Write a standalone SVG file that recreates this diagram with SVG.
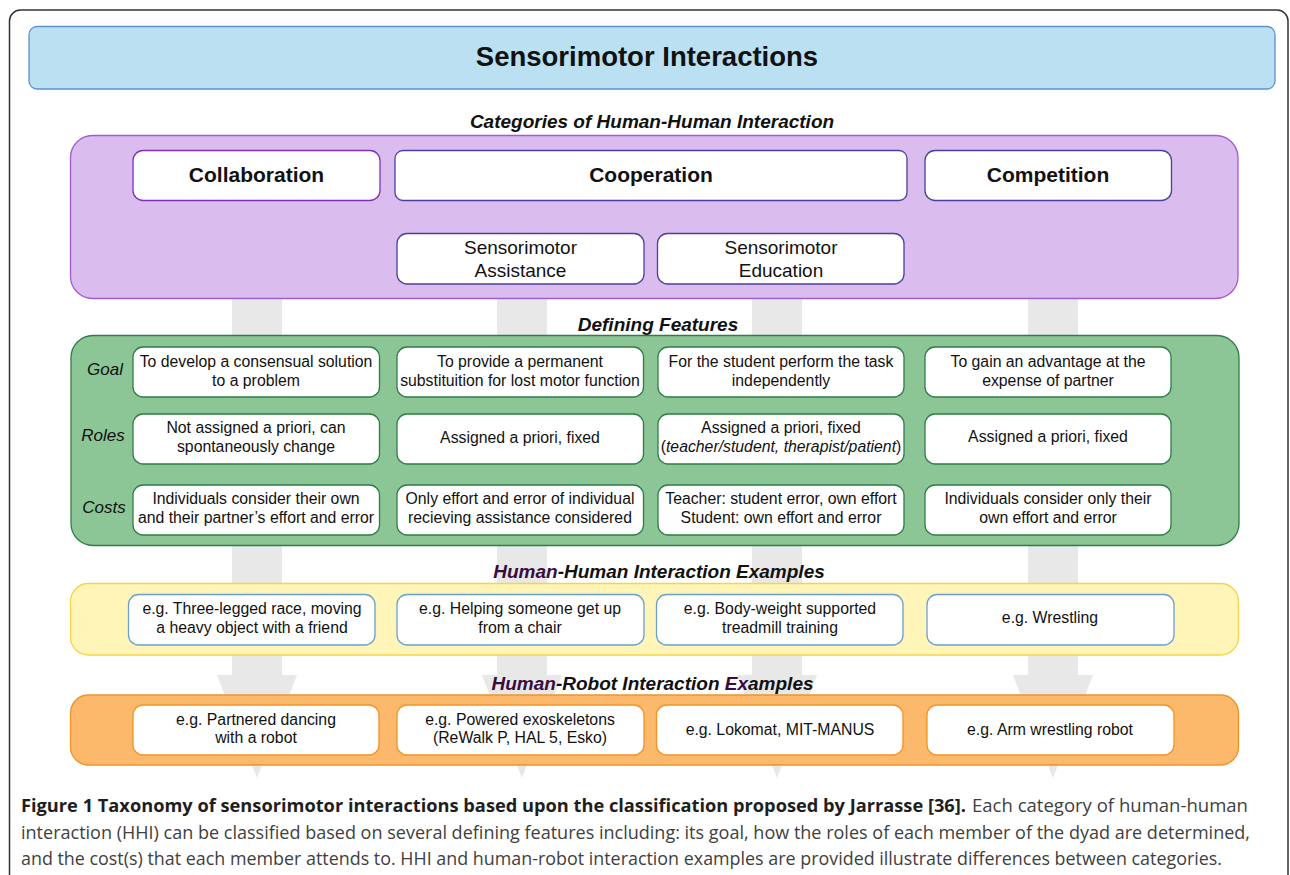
<svg xmlns="http://www.w3.org/2000/svg" width="1290" height="875" viewBox="0 0 1290 875">
<defs>
<style>
.t{font-family:"Liberation Sans",Arial,Helvetica,sans-serif;fill:#111;text-anchor:middle}
.title{font-size:27.5px;font-weight:bold}
.sec{font-size:19px;font-weight:bold;font-style:italic}
.cat{font-size:21px;font-weight:bold}
.sub{font-size:19px}
.cell{font-size:15.8px}
.lab{font-size:17px;font-style:italic}
.inner{fill:#fff;stroke-width:1.3}
.arrow{fill:#e8e8e8}
.cap{font-family:"Open Sans","Noto Sans","Liberation Sans",sans-serif;font-size:17.5px;fill:#404040}
.capb{font-weight:bold;fill:#1e1e1e}
.dk{fill:#3a0c3e}
</style>
</defs>
<rect x="0" y="0" width="1290" height="875" fill="#fff"/>
<rect x="9.5" y="10" width="1278.5" height="900" rx="11" fill="#fff" stroke="#333" stroke-width="1.5"/>

<g id="connectors">
<path class="arrow" d="M232,290 H282 V675 H297 L257,778 L217,675 H232 Z"/>
<path class="arrow" d="M497,290 H547 V675 H562 L522,778 L482,675 H497 Z"/>
<path class="arrow" d="M752,290 H802 V675 H817 L777,778 L737,675 H752 Z"/>
<path class="arrow" d="M1028,290 H1078 V675 H1093 L1053,778 L1013,675 H1028 Z"/>
</g>

<g id="title">
<rect x="29" y="26.5" width="1246" height="62.5" rx="8" fill="#bae0f2" stroke="#5b92c9" stroke-width="1.3"/>
<text class="t title" x="647" y="66">Sensorimotor Interactions</text>
</g>

<g id="categories">
<text class="t sec" x="652" y="128">Categories of Human-Human Interaction</text>
<rect x="70.5" y="135.5" width="1167.5" height="163" rx="22" fill="#dabdee" stroke="#a45ad0" stroke-width="1.3"/>
</g>
<g id="collaboration">
<rect class="inner" x="133" y="150.5" width="247" height="50" rx="10" stroke="#8030c0"/>
<text class="t cat" x="256.5" y="182">Collaboration</text>
</g>
<g id="cooperation">
<rect class="inner" x="395" y="150.5" width="512" height="50" rx="8" stroke="#4a3f9e"/>
<text class="t cat" x="651" y="182">Cooperation</text>
</g>
<g id="competition">
<rect class="inner" x="925" y="150.5" width="246.5" height="50" rx="10" stroke="#4a3f9e"/>
<text class="t cat" x="1048" y="182">Competition</text>
</g>
<g id="assistance">
<rect class="inner" x="397" y="233.5" width="247" height="50.5" rx="10" stroke="#4a3f9e"/>
<text class="t sub" x="520.5" y="254">Sensorimotor</text>
<text class="t sub" x="520.5" y="277">Assistance</text>
</g>
<g id="education">
<rect class="inner" x="657.5" y="233.5" width="246.5" height="50.5" rx="10" stroke="#4a3f9e"/>
<text class="t sub" x="781" y="254">Sensorimotor</text>
<text class="t sub" x="781" y="277">Education</text>
</g>

<g id="features">
<text class="t sec" x="658" y="331">Defining Features</text>
<rect x="71" y="335.5" width="1168" height="210" rx="22" fill="#8cc596" stroke="#2e7d47" stroke-width="1.3"/>
<text class="t lab" x="105" y="375">Goal</text>
<text class="t lab" x="103" y="441">Roles</text>
<text class="t lab" x="104" y="513">Costs</text>
</g>
<g id="goal-collab">
<rect class="inner" x="133" y="347" width="246.5" height="50" rx="10" stroke="#2e7d47"/>
<text class="t cell" x="256" y="367">To develop a consensual solution</text>
<text class="t cell" x="256" y="386">to a problem</text>
</g>
<g id="goal-assist">
<rect class="inner" x="397" y="347" width="246.5" height="50" rx="10" stroke="#2e7d47"/>
<text class="t cell" x="520" y="367">To provide a permanent</text>
<text class="t cell" x="520" y="386">substituition for lost motor function</text>
</g>
<g id="goal-edu">
<rect class="inner" x="658" y="347" width="246" height="50" rx="10" stroke="#2e7d47"/>
<text class="t cell" x="781" y="367">For the student perform the task</text>
<text class="t cell" x="781" y="386">independently</text>
</g>
<g id="goal-comp">
<rect class="inner" x="925" y="347" width="246" height="50" rx="10" stroke="#2e7d47"/>
<text class="t cell" x="1048" y="367">To gain an advantage at the</text>
<text class="t cell" x="1048" y="386">expense of partner</text>
</g>
<g id="roles-collab">
<rect class="inner" x="133" y="414" width="246.5" height="50" rx="10" stroke="#2e7d47"/>
<text class="t cell" x="256" y="433">Not assigned a priori, can</text>
<text class="t cell" x="256" y="452">spontaneously change</text>
</g>
<g id="roles-assist">
<rect class="inner" x="397" y="414" width="246.5" height="50" rx="10" stroke="#2e7d47"/>
<text class="t cell" x="520" y="443">Assigned a priori, fixed</text>
</g>
<g id="roles-edu">
<rect class="inner" x="658" y="414" width="246" height="50" rx="10" stroke="#2e7d47"/>
<text class="t cell" x="781" y="433">Assigned a priori, fixed</text>
<text class="t cell" x="781" y="452">(<tspan font-style="italic">teacher/student, therapist/patient</tspan>)</text>
</g>
<g id="roles-comp">
<rect class="inner" x="925" y="414" width="246" height="50" rx="10" stroke="#2e7d47"/>
<text class="t cell" x="1048" y="442">Assigned a priori, fixed</text>
</g>
<g id="costs-collab">
<rect class="inner" x="133" y="485" width="246.5" height="50" rx="10" stroke="#2e7d47"/>
<text class="t cell" x="256" y="504">Individuals consider their own</text>
<text class="t cell" x="256" y="523">and their partner’s effort and error</text>
</g>
<g id="costs-assist">
<rect class="inner" x="397" y="485" width="246.5" height="50" rx="10" stroke="#2e7d47"/>
<text class="t cell" x="520" y="504">Only effort and error of individual</text>
<text class="t cell" x="520" y="523">recieving assistance considered</text>
</g>
<g id="costs-edu">
<rect class="inner" x="658" y="485" width="246" height="50" rx="10" stroke="#2e7d47"/>
<text class="t cell" x="781" y="504">Teacher: student error, own effort</text>
<text class="t cell" x="781" y="523">Student: own effort and error</text>
</g>
<g id="costs-comp">
<rect class="inner" x="925" y="485" width="246" height="50" rx="10" stroke="#2e7d47"/>
<text class="t cell" x="1048" y="504">Individuals consider only their</text>
<text class="t cell" x="1048" y="523">own effort and error</text>
</g>

<g id="hhi">
<text class="t sec" x="659" y="578"><tspan class="dk">Human</tspan>-Human Interaction Examples</text>
<rect x="70.5" y="583.5" width="1168" height="71.5" rx="18" fill="#fff5b9" stroke="#f5d44a" stroke-width="1.3"/>
</g>
<g id="hhi-collab">
<rect class="inner" x="128.5" y="594.5" width="246.5" height="50.5" rx="10" stroke="#6a9fd4"/>
<text class="t cell" x="252" y="614">e.g. Three-legged race, moving</text>
<text class="t cell" x="252" y="633">a heavy object with a friend</text>
</g>
<g id="hhi-assist">
<rect class="inner" x="397" y="594.5" width="247" height="50.5" rx="10" stroke="#6a9fd4"/>
<text class="t cell" x="520" y="614">e.g. Helping someone get up</text>
<text class="t cell" x="520" y="633">from a chair</text>
</g>
<g id="hhi-edu">
<rect class="inner" x="656.5" y="594.5" width="246.5" height="50.5" rx="10" stroke="#6a9fd4"/>
<text class="t cell" x="780" y="614">e.g. Body-weight supported</text>
<text class="t cell" x="780" y="633">treadmill training</text>
</g>
<g id="hhi-comp">
<rect class="inner" x="927" y="594.5" width="247" height="50.5" rx="10" stroke="#6a9fd4"/>
<text class="t cell" x="1050" y="623">e.g. Wrestling</text>
</g>

<g id="hri">
<text class="t sec" x="652.5" y="690"><tspan class="dk">Human</tspan>-Robot Interaction <tspan class="dk">Ex</tspan>amples</text>
<rect x="70.5" y="695" width="1168" height="70" rx="18" fill="#fdb96b" stroke="#f0922b" stroke-width="1.3"/>
</g>
<g id="hri-collab">
<rect class="inner" x="133" y="705" width="246" height="50" rx="10" stroke="#f39323"/>
<text class="t cell" x="256" y="725">e.g. Partnered dancing</text>
<text class="t cell" x="256" y="743">with a robot</text>
</g>
<g id="hri-assist">
<rect class="inner" x="397" y="705" width="247" height="50" rx="10" stroke="#f39323"/>
<text class="t cell" x="520" y="725">e.g. Powered exoskeletons</text>
<text class="t cell" x="520" y="743">(ReWalk P, HAL 5, Esko)</text>
</g>
<g id="hri-edu">
<rect class="inner" x="656.5" y="705" width="246.5" height="50" rx="10" stroke="#f39323"/>
<text class="t cell" x="780" y="735">e.g. Lokomat, MIT-MANUS</text>
</g>
<g id="hri-comp">
<rect class="inner" x="927" y="705" width="247" height="50" rx="10" stroke="#f39323"/>
<text class="t cell" x="1050" y="735">e.g. Arm wrestling robot</text>
</g>

<g id="caption">
<text class="cap capb" x="21" y="812" textLength="945" lengthAdjust="spacingAndGlyphs">Figure 1 Taxonomy of sensorimotor interactions based upon the classification proposed by Jarrasse [36].</text>
<text class="cap" x="972" y="812" textLength="276" lengthAdjust="spacingAndGlyphs">Each category of human-human</text>
<text class="cap" x="21" y="839" textLength="1229" lengthAdjust="spacingAndGlyphs">interaction (HHI) can be classified based on several defining features including: its goal, how the roles of each member of the dyad are determined,</text>
<text class="cap" x="21" y="865" textLength="1201" lengthAdjust="spacingAndGlyphs">and the cost(s) that each member attends to. HHI and human-robot interaction examples are provided illustrate differences between categories.</text>
</g>
</svg>
